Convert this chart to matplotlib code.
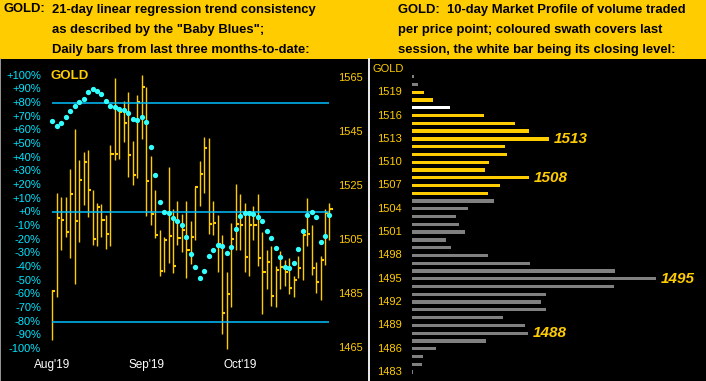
import numpy as np
import matplotlib
matplotlib.use('Agg')
import matplotlib.pyplot as plt
from matplotlib import transforms

plt.rcParams['font.family'] = ['Liberation Sans', 'DejaVu Sans']

# left panel: daily bars for gold (price) and the "Baby Blues" (%)
month_labels = ["Aug'19", "Sep'19", "Oct'19"]
month_starts = [0, 21, 42]

bar_high = [1486.6, 1522.3, 1521.0, 1520.8, 1531.3, 1545.9, 1534.6, 1537.5, 1538.3, 1523.5,
            1518.6, 1518.2, 1514.3, 1540.1, 1564.8, 1554.3, 1556.4, 1559.7, 1541.6, 1558.6,
            1566.0, 1561.4, 1536.1, 1523.5, 1508.7, 1506.3, 1532.0, 1516.4, 1519.4, 1514.6,
            1519.4, 1512.1, 1524.5, 1534.2, 1543.1, 1542.7, 1519.4, 1514.3, 1506.9, 1493.2,
            1511.3, 1525.7, 1522.0, 1518.7, 1515.3, 1517.7, 1522.0, 1507.8, 1501.3, 1502.8,
            1495.4, 1501.0, 1497.7, 1498.3, 1491.7, 1499.1, 1507.1, 1520.7, 1510.6, 1496.9,
            1499.1, 1516.4, 1518.7]
bar_low = [1468.1, 1484.1, 1501.3, 1506.3, 1498.5, 1488.9, 1504.3, 1518.0, 1513.7, 1503.2,
           1502.8, 1506.3, 1501.7, 1502.8, 1534.6, 1535.1, 1541.4, 1528.4, 1525.4, 1528.1,
           1542.5, 1514.0, 1510.6, 1505.7, 1491.9, 1493.1, 1496.7, 1493.0, 1503.3, 1500.7,
           1490.8, 1496.2, 1505.0, 1517.6, 1522.5, 1507.3, 1506.9, 1493.3, 1470.3, 1464.8,
           1480.4, 1501.3, 1501.3, 1493.3, 1491.9, 1505.0, 1495.6, 1477.8, 1487.1, 1480.8,
           1480.4, 1487.1, 1488.2, 1484.9, 1483.8, 1490.8, 1490.4, 1502.9, 1492.2, 1485.6,
           1483.0, 1495.9, 1505.2]
bar_close = [1486.3, 1513.3, 1512.4, 1507.8, 1522.2, 1512.1, 1527.3, 1534.0, 1523.6, 1505.5,
             1517.3, 1512.4, 1507.3, 1536.8, 1536.8, 1552.5, 1548.4, 1536.4, 1529.2, 1556.1,
             1561.7, 1527.0, 1514.8, 1507.0, 1493.7, 1505.2, 1506.6, 1495.6, 1505.9, 1508.7,
             1501.3, 1506.3, 1524.5, 1529.5, 1539.2, 1511.1, 1511.4, 1503.4, 1478.2, 1485.2,
             1505.5, 1511.1, 1510.5, 1498.9, 1510.7, 1510.7, 1498.5, 1493.3, 1497.0, 1484.5,
             1494.1, 1495.2, 1493.3, 1487.4, 1490.4, 1494.8, 1506.9, 1507.1, 1494.8, 1489.6,
             1497.8, 1515.1, 1516.6]
baby_blues = [67.1, 63.5, 65.7, 70.1, 74.5, 78.1, 80.6, 83.2, 88.4, 90.3,
              89.1, 86.9, 81.5, 78.1, 77.2, 75.9, 74.9, 73.0, 68.6, 67.6,
              70.1, 66.4, 48.1, 27.6, 7.8, 0.5, -0.3, -3.9, -6.1, -9.1,
              -17.8, -30.8, -39.8, -47.9, -42.8, -31.8, -27.4, -23.7, -24.4, -29.6,
              -25.2, -12.0, -2.5, -0.3, -0.3, -1.0, -3.2, -6.1, -13.5, -18.6,
              -25.9, -32.5, -39.8, -40.6, -36.9, -26.6, -13.5, -1.7, 0.5, -3.2,
              -21.5, -17.1, -1.7]
pct_ticks = list(range(100, -101, -10))
pct_lines = [80, 0, -80]
price_ticks = [1565, 1545, 1525, 1505, 1485, 1465]

# right panel: 10-day market profile
profile_price = list(range(1521, 1482, -1))
profile_volume = [2, 6, 12, 21, 38, 72, 103, 117, 137, 93,
                  95, 77, 73, 117, 88, 76, 82, 56, 44, 47,
                  53, 34, 39, 76, 118, 203, 244, 202, 134, 129,
                  134, 91, 113, 116, 74, 24, 11, 10, 1]
session_low, session_high, session_close = 1506, 1519, 1517
callouts = [1513, 1508, 1495, 1488]

GOLD = '#FFCC00'
CYAN_TXT = '#00E5FF'
CYAN_LINE = '#00BFFF'
CYAN_DOT = '#33FFFF'
W, H = 706, 381


def px_rect(x0, y0, x1, y1):
    return [x0 / W, 1 - y1 / H, (x1 - x0) / W, (y1 - y0) / H]


fig = plt.figure(figsize=(W / 100, H / 100), dpi=100, facecolor=GOLD)

# header text
hdr = dict(fontsize=9.4, fontweight='bold', color='black', va='center', ha='left')
fig.text(4 / W, 1 - 9.5 / H, 'GOLD:', **hdr)
left_lines = ['21-day linear regression trend consistency',
              'as described by the "Baby Blues";',
              'Daily bars from last three months-to-date:']
right_lines = ['GOLD:  10-day Market Profile of volume traded',
               'per price point; coloured swath covers last',
               'session, the white bar being its closing level:']
for i, (l, r) in enumerate(zip(left_lines, right_lines)):
    yy = 1 - (9.5 + 20 * i) / H
    fig.text(52 / W, yy, l, **hdr)
    fig.text(398 / W, yy, r, **hdr)

# ---- left panel
ax = fig.add_axes(px_rect(0, 59, 369, 381), facecolor='black')
ax.set_xlim(-11.70, 70.85)
ax.set_ylim(1452.92, 1571.91)
axp = ax.twinx()
axp.set_ylim(-123.59, 112.31)
for a in (ax, axp):
    a.set_xticks([])
    a.set_yticks([])
    for s in a.spines.values():
        s.set_visible(False)
ax.spines['left'].set_visible(True)
ax.spines['left'].set_color('#B0B0B0')
ax.spines['left'].set_linewidth(1.2)

x = np.arange(len(bar_close))
ax.vlines(x, bar_low, bar_high, color=GOLD, linewidth=1.0)
ax.hlines(bar_close, x, x + 0.7, color=GOLD, linewidth=1.5)

axp.hlines(pct_lines, 0, len(x) - 1, color=CYAN_LINE, linewidth=1.1)
axp.plot(x, baby_blues, 'o', color=CYAN_DOT, markersize=3.8, markeredgewidth=0)

tp = transforms.blended_transform_factory(axp.transAxes, axp.transData)
for t in pct_ticks:
    lab = ('+%d%%' % t) if t >= 0 else ('%d%%' % t)
    axp.text(41 / 369, t, lab, transform=tp, ha='right', va='center',
             color=CYAN_TXT, fontsize=8)
tpr = transforms.blended_transform_factory(ax.transAxes, ax.transData)
for t in price_ticks:
    ax.text(338 / 369, t, str(t), transform=tpr, ha='left', va='center',
            color=GOLD, fontsize=8)
axp.text(51 / 369, 100, 'GOLD', transform=tp, ha='left', va='center',
         color=GOLD, fontsize=9.5, fontweight='bold')
tm = transforms.blended_transform_factory(ax.transData, ax.transAxes)
for pos, lab in zip(month_starts, month_labels):
    ax.text(pos, 16 / 322, lab, transform=tm, ha='center', va='center',
            color='white', fontsize=8.5)

# ---- right panel
axr = fig.add_axes(px_rect(369, 59, 706, 381), facecolor='black')
axr.set_xlim(-43, 294)
axr.set_ylim(1481.84, 1523.28)
axr.set_xticks([])
axr.set_yticks([])
for s in axr.spines.values():
    s.set_visible(False)
axr.spines['left'].set_visible(True)
axr.spines['left'].set_color('white')
axr.spines['left'].set_linewidth(1.3)

colors = []
for p in profile_price:
    if p == session_close:
        colors.append('white')
    elif session_low <= p <= session_high:
        colors.append(GOLD)
    else:
        colors.append('#808080')
axr.barh(profile_price, profile_volume, height=0.42, left=0, color=colors)

for p in profile_price[2::3]:
    axr.text(-10, p, str(p), ha='right', va='center', color=GOLD, fontsize=8)
axr.text(-39, 1522.0, 'GOLD', ha='left', va='center', color=GOLD, fontsize=8)
for p in callouts:
    v = profile_volume[profile_price.index(p)]
    axr.text(v + 5, p, str(p), ha='left', va='center', color=GOLD,
             fontsize=11, fontweight='bold', fontstyle='italic')

fig.savefig('out.png', dpi=100, facecolor=GOLD)
